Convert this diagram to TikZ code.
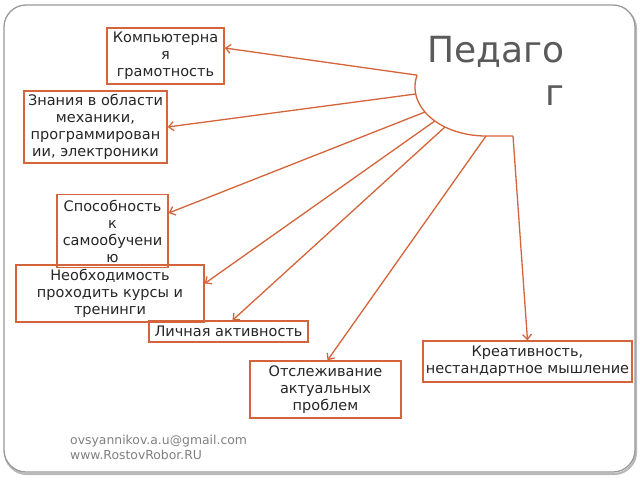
\documentclass[tikz,border=0pt]{standalone}
\usepackage{fontspec}
\setmainfont{DejaVu Sans}
\usetikzlibrary{arrows.meta,calc}
\definecolor{accent}{HTML}{D4643A}
\definecolor{txt}{HTML}{262626}
\definecolor{titlegray}{HTML}{5A5A5A}
\definecolor{footgray}{HTML}{808080}
\definecolor{framegray}{HTML}{9A9A9A}
\begin{document}
\begin{tikzpicture}[x=1pt,y=-1pt,
  box/.style={draw=accent,line width=1.4pt,inner sep=0pt,align=center,
    text=txt,font=\fontsize{14.5}{17}\selectfont},
  link/.style={draw=accent,line width=1.3pt,-{Straight Barb[length=5pt,width=9pt,line width=1.3pt]}},
  foot/.style={anchor=base west,inner sep=0pt,text=footgray,font=\fontsize{12.4}{15}\selectfont}]
\useasboundingbox (0,0) rectangle (640,480);
% frame with shadow
\draw[line width=2.2pt,gray!55,rounded corners=22pt] (5,7) rectangle (636,474);
\draw[line width=1.3pt,framegray,fill=white,rounded corners=22pt] (4,5) rectangle (635,472);
% title
\node[anchor=base east,inner sep=0pt,text=titlegray,font=\fontsize{36}{43}\selectfont] (t1) at (565,62) {Педаго};
\node[anchor=base east,inner sep=0pt,text=titlegray,font=\fontsize{36}{43}\selectfont] (t2) at (565,105) {г};
% central arc
\draw[accent,line width=1.3pt] plot[domain=-14:90,samples=40] ({486-71*cos(\x)},{87+49*sin(\x)}) -- (513,136);
\coordinate (s1) at ({486-71*cos(-14)},{87+49*sin(-14)});
\coordinate (s2) at ({486-71*cos(8.2)},{87+49*sin(8.2)});
\coordinate (s3) at ({486-71*cos(30.7)},{87+49*sin(30.7)});
\coordinate (s4) at ({486-71*cos(43.9)},{87+49*sin(43.9)});
\coordinate (s5) at ({486-71*cos(54.7)},{87+49*sin(54.7)});
\coordinate (s6) at (486,136);
\coordinate (s7) at (513,136);
% boxes
\node[box,minimum width=117pt,minimum height=56pt] (b1) at (165.5,56) {Компьютерна\\я\\грамотность};
\node[box,minimum width=143pt,minimum height=72pt] (b2) at (95.5,127) {Знания в области\\механики,\\программирован\\ии, электроники};
\node[box,minimum width=111pt,minimum height=73pt] (b3) at (112.5,231) {Способность\\к\\самообучени\\ю};
\node[box,minimum width=188pt,minimum height=57pt] (b4) at (110,293.5) {Необходимость\\проходить курсы и\\тренинги};
\node[box,minimum width=159pt,minimum height=21pt] (b5) at (228.5,331.5) {Личная активность};
\node[box,minimum width=209pt,minimum height=41pt] (b6) at (527.5,361.5) {Креативность,\\нестандартное мышление};
\node[box,minimum width=151pt,minimum height=57pt] (b7) at (325.5,389.5) {Отслеживание\\актуальных\\проблем};
% connectors
\draw[link] (s1) -- ([yshift=8pt]b1.east);
\draw[link] (s2) -- (b2.east);
\draw[link] (s3) -- ([yshift=18pt]b3.east);
\draw[link] (s4) -- ([yshift=10pt]b4.east);
\draw[link] (s5) -- ([xshift=4pt]b5.north);
\draw[link] (s6) -- ([xshift=2pt]b7.north);
\draw[link] (s7) -- (b6.north);
% footer
\node[foot] (f1) at (70,444) {ovsyannikov.a.u@gmail.com};
\node[foot] (f2) at (70,459) {www.RostovRobor.RU};
\end{tikzpicture}
\end{document}
